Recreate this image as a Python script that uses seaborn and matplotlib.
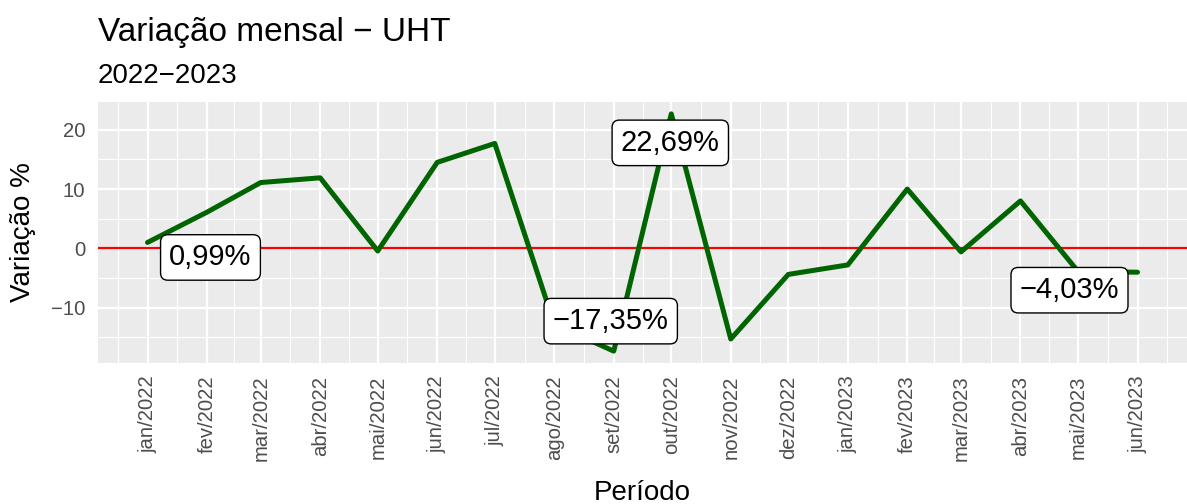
import pandas as pd
import matplotlib.pyplot as plt
import seaborn as sns

# dados
periodos = ["2022-01-01", "2022-02-01", "2022-03-01", "2022-04-01", "2022-05-01", "2022-06-01",
            "2022-07-01", "2022-08-01", "2022-09-01", "2022-10-01", "2022-11-01", "2022-12-01",
            "2023-01-01", "2023-02-01", "2023-03-01", "2023-04-01", "2023-05-01", "2023-06-01"]
variacao = [0.99, 6.1, 11.1, 11.9, -0.45, 14.5, 17.7, -12.8, -17.35, 22.69, -15.3, -4.4,
            -2.8, 10.0, -0.6, 8.0, -3.9, -4.03]
rotulos_x = ["jan/2022", "fev/2022", "mar/2022", "abr/2022", "mai/2022", "jun/2022",
             "jul/2022", "ago/2022", "set/2022", "out/2022", "nov/2022", "dez/2022",
             "jan/2023", "fev/2023", "mar/2023", "abr/2023", "mai/2023", "jun/2023"]

# pontos com rótulo (primeiro, mínimo, máximo, último) e deslocamento do rótulo em pixels
destaques = ["2022-01-01", "2022-09-01", "2022-10-01", "2023-06-01"]
desloc = [(63, -15), (-3, 30), (-1, -29), (-68, -18)]

df = pd.DataFrame({"periodo": pd.to_datetime(periodos), "variacao": variacao})

sns.set_theme(style="darkgrid", rc={
    "axes.facecolor": "#EBEBEB",
    "grid.color": "white",
    "axes.edgecolor": "#EBEBEB",
})
plt.rcParams["font.family"] = ["Liberation Sans", "DejaVu Sans"]

fig, ax = plt.subplots(figsize=(11.87, 5.04), dpi=100)
fig.subplots_adjust(left=98 / 1187, right=1.0, top=1 - 102 / 504, bottom=1 - 363 / 504)

ax.axhline(0, color="red", lw=1.6, zorder=2)
sns.lineplot(data=df, x="periodo", y="variacao", color="#006400", lw=3.6, ax=ax, zorder=3)

# escalas com expansão de 5% como no ggplot
x0, x1 = df["periodo"].min(), df["periodo"].max()
dx = (x1 - x0) * 0.05
ax.set_xlim(x0 - dx, x1 + dx)
y0, y1 = df["variacao"].min(), df["variacao"].max()
dy = (y1 - y0) * 0.05
ax.set_ylim(y0 - dy, y1 + dy)

ax.set_xticks(df["periodo"])
ax.set_xticklabels(rotulos_x, rotation=90)
datas = df["periodo"]
meios = list(datas[:-1] + (datas.diff()[1:].values / 2))
meios = [datas.iloc[0] - (datas.iloc[1] - datas.iloc[0]) / 2] + meios + \
        [datas.iloc[-1] + (datas.iloc[-1] - datas.iloc[-2]) / 2]
ax.set_xticks(meios, minor=True)
ax.set_yticks([-10, 0, 10, 20])
ax.set_yticklabels(["\u221210", "0", "10", "20"])
ax.set_yticks([-15, -5, 5, 15], minor=True)

ax.grid(which="major", color="white", lw=1.6)
ax.grid(which="minor", color="white", lw=0.8)
ax.tick_params(which="major", length=6, width=1.4, color="#333333", labelcolor="#4D4D4D",
               labelsize=14.6, pad=3)
ax.tick_params(which="minor", length=0)
for s in ax.spines.values():
    s.set_visible(False)

for d, (ox, oy) in zip(destaques, desloc):
    v = df.loc[df["periodo"] == pd.Timestamp(d), "variacao"].iloc[0]
    txt = f"{v:.2f}%".replace(".", ",").replace("-", "\u2212")
    ax.annotate(txt, (pd.Timestamp(d), v), xytext=(ox, oy), textcoords="offset pixels",
                ha="center", va="center", fontsize=21, color="black", zorder=5,
                bbox=dict(boxstyle="round,pad=0.3,rounding_size=0.25", fc="white",
                          ec="black", lw=1.0))

ax.set_xlabel("")
ax.set_ylabel("")
fig.text(23 / 1187, 1 - 232 / 504, "Variação %", rotation=90, ha="center", va="center",
         fontsize=20, color="black")
fig.text((98 + 1187) / 2 / 1187, 4 / 504, "Período", ha="center", va="baseline",
         fontsize=20, color="black")
fig.text(98 / 1187, 1 - 41 / 504, "Variação mensal \u2212 UHT", ha="left", va="baseline",
         fontsize=24, color="black")
fig.text(98 / 1187, 1 - 83 / 504, "2022\u22122023", ha="left", va="baseline",
         fontsize=20, color="black")

fig.savefig("out.png", dpi=100)
